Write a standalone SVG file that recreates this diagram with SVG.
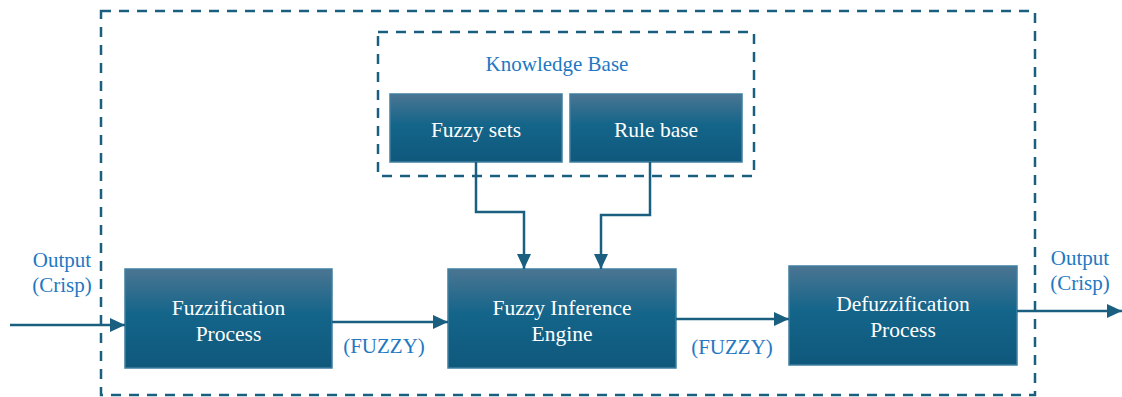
<svg xmlns="http://www.w3.org/2000/svg" width="1122" height="397" viewBox="0 0 1122 397">
<defs>
<linearGradient id="g" x1="0" y1="0" x2="0" y2="1">
<stop offset="0" stop-color="#4b7592"/>
<stop offset="0.45" stop-color="#14658a"/>
<stop offset="1" stop-color="#0f587c"/>
</linearGradient>
<marker id="ah" markerWidth="15" markerHeight="14" refX="15" refY="7" orient="auto" markerUnits="userSpaceOnUse" viewBox="0 0 15 14">
<path d="M0,0 L15,7 L0,14 z" fill="#1a5f80"/>
</marker>
<style>
.box{fill:url(#g);stroke:#3f7fa0;stroke-width:1.5}
text{font-family:'Liberation Serif','Times New Roman','DejaVu Serif',serif}
.bt{font-size:21.5px;fill:#ffffff;text-anchor:middle}
.lb{font-size:21px;fill:#1f78c1;text-anchor:middle}
.dash{fill:none;stroke:#1a5f80;stroke-width:2.5;stroke-dasharray:10 8}
.c{fill:none;stroke:#1a5f80;stroke-width:2.5}
</style>
</defs>
<rect width="1122" height="397" fill="#ffffff"/>
<g id="outer"><rect class="dash" x="101" y="11" width="934" height="384"/></g>
<g id="knowledge-base">
<rect class="dash" x="378" y="32" width="376" height="144"/>
<text class="lb" x="557" y="71" font-family="Liberation Serif, serif">Knowledge Base</text>
</g>
<g id="fuzzy-sets"><rect class="box" x="390" y="94" width="172" height="68"/><text class="bt" x="476" y="137" font-family="Liberation Serif, serif">Fuzzy sets</text></g>
<g id="rule-base"><rect class="box" x="570" y="94" width="172" height="68"/><text class="bt" x="656" y="137" font-family="Liberation Serif, serif">Rule base</text></g>
<g id="fuzzification"><rect class="box" x="125" y="269" width="207" height="99"/><text class="bt" x="228.500" y="315" font-family="Liberation Serif, serif">Fuzzification</text><text class="bt" x="228.500" y="341" font-family="Liberation Serif, serif">Process</text></g>
<g id="inference"><rect class="box" x="448" y="269" width="228" height="99"/><text class="bt" x="562" y="315" font-family="Liberation Serif, serif">Fuzzy Inference</text><text class="bt" x="562" y="341" font-family="Liberation Serif, serif">Engine</text></g>
<g id="defuzzification"><rect class="box" x="789" y="266" width="228" height="99"/><text class="bt" x="903" y="311" font-family="Liberation Serif, serif">Defuzzification</text><text class="bt" x="903" y="337" font-family="Liberation Serif, serif">Process</text></g>
<g id="connectors">
<path class="c" d="M10,325 H125" marker-end="url(#ah)"/>
<path class="c" d="M332,322 H448" marker-end="url(#ah)"/>
<path class="c" d="M676,319 H789" marker-end="url(#ah)"/>
<path class="c" d="M1017,311 H1122" marker-end="url(#ah)"/>
<path class="c" d="M476,162 V212 H524 V269" marker-end="url(#ah)"/>
<path class="c" d="M650,162 V215 H601 V269" marker-end="url(#ah)"/>
</g>
<g id="labels">
<text class="lb" x="62" y="267" font-family="Liberation Serif, serif">Output</text>
<text class="lb" x="62" y="292" font-family="Liberation Serif, serif">(Crisp)</text>
<text class="lb" x="1080" y="265" font-family="Liberation Serif, serif">Output</text>
<text class="lb" x="1080" y="290" font-family="Liberation Serif, serif">(Crisp)</text>
<text class="lb" x="384" y="353" font-family="Liberation Serif, serif">(FUZZY)</text>
<text class="lb" x="732" y="354" font-family="Liberation Serif, serif">(FUZZY)</text>
</g>
</svg>
